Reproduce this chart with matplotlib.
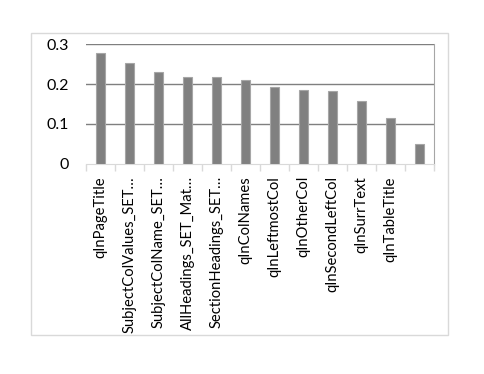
import numpy as np
import matplotlib.pyplot as plt
from matplotlib.patches import Rectangle

labels = ['qInPageTitle', 'SubjectColValues_SET…', 'SubjectColName_SET…',
          'AllHeadings_SET_Mat…', 'SectionHeadings_SET…', 'qInColNames',
          'qInLeftmostCol', 'qInOtherCol', 'qInSecondLeftCol', 'qInSurrText',
          'qInTableTitle', '']
values = [0.277, 0.252, 0.231, 0.219, 0.217, 0.210,
          0.192, 0.184, 0.182, 0.158, 0.115, 0.049]
yticks = [0, 0.1, 0.2, 0.3]
ytick_labels = ['0', '0.1', '0.2', '0.3']

plt.rcParams['font.family'] = ['Lato', 'DejaVu Sans']

fig = plt.figure(figsize=(4.85, 3.74), dpi=100)
# outer chart border
fig.patches.append(Rectangle((31/485, 1-335/374), 417/485, 302/374,
                             transform=fig.transFigure, fill=False,
                             edgecolor='#d9d9d9', linewidth=1))

ax = fig.add_axes([86/485, 1-163.7/374, 348/485, 119.4/374])
x = np.arange(len(values))
ax.bar(x, values, width=0.34, color='#808080', edgecolor='#a6a6a6',
       linewidth=0.8, zorder=3)

ax.set_xlim(-0.5, len(values) - 0.5)
ax.set_ylim(0, 0.3)
ax.set_yticks(yticks)
ax.set_yticklabels(ytick_labels, fontsize=11.5, color='#000000')
for v in yticks[1:]:
    ax.axhline(v, color='#7f7f7f', linewidth=1, zorder=1)

ax.set_xticks(x)
ax.set_xticklabels(labels, rotation=90, fontsize=10.6, va='top', ha='center')
ax.tick_params(axis='x', length=0, pad=9)
ax.tick_params(axis='y', length=0, pad=12)
ax.set_xticks(np.arange(-0.5, len(values)), minor=True)
ax.tick_params(axis='x', which='minor', length=5, color='#d9d9d9', width=1)

for s in ['left', 'top']:
    ax.spines[s].set_visible(False)
ax.spines['right'].set_color('#a6a6a6')
ax.spines['bottom'].set_color('#d9d9d9')

plt.savefig('out.png', dpi=100)
